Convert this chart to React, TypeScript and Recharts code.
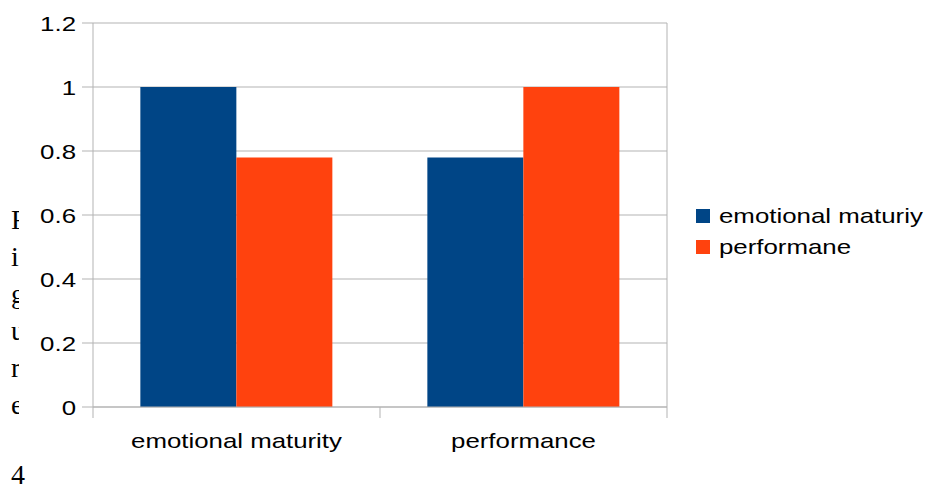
import React from 'react'
import { Bar, BarChart, CartesianGrid, XAxis, YAxis } from 'recharts'

const categories = ['emotional maturity', 'performance']
const maturityValues = [1, 0.78]
const performanceValues = [0.78, 1]
const seriesNames = ['emotional maturiy', 'performane']
const seriesColors = ['#004586', '#ff420e']
const yTicks = [0, 0.2, 0.4, 0.6, 0.8, 1, 1.2]
const captionLetters = ['F', 'i', 'g', 'u', 'r', 'e']
const captionNumber = '4'

const data = categories.map((name, i) => ({
  name,
  maturity: maturityValues[i],
  performance: performanceValues[i],
}))

const GRID = '#b3b3b3'
const FONT = '"Liberation Sans", Arial, sans-serif'
const STRETCH = 1.23

function YTick(props: any) {
  const { x, y, payload } = props
  return (
    <text
      transform={`translate(${x},${y}) scale(${STRETCH},1)`}
      textAnchor="end"
      dy="0.36em"
      fontSize={21}
      fontFamily={FONT}
      fill="#000"
    >
      {String(payload.value)}
    </text>
  )
}

function XTick(props: any) {
  const { x, y, payload, index, visibleTicksCount } = props
  const half = payload.offset ?? 0
  const isLast = index === visibleTicksCount - 1
  return (
    <g>
      <line x1={x - half} x2={x - half} y1={y} y2={y + 11} stroke={GRID} />
      {isLast ? <line x1={x + half} x2={x + half} y1={y} y2={y + 11} stroke={GRID} /> : null}
      <text
        transform={`translate(${x},${y + 41}) scale(${STRETCH},1)`}
        textAnchor="middle"
        fontSize={21}
        fontFamily={FONT}
        fill="#000"
      >
        {payload.value}
      </text>
    </g>
  )
}

export default function App() {
  return (
    <div style={{ position: 'absolute', left: 0, top: 0, width: 927, height: 485, background: '#fff' }}>
      {/* stray caption text, cut off by the chart */}
      <svg width={19} height={485} style={{ position: 'absolute', left: 0, top: 0 }}>
        {captionLetters.map((ch, i) => (
          <text key={i} x={11} y={229 + i * 37} fontSize={28} fontFamily='"Liberation Serif", serif' fill="#000">
            {ch}
          </text>
        ))}
      </svg>
      <svg width={40} height={30} style={{ position: 'absolute', left: 0, top: 455 }}>
        <text x={11} y={29} fontSize={28} fontFamily='"Liberation Serif", serif' fill="#000">
          {captionNumber}
        </text>
      </svg>

      <div style={{ position: 'absolute', left: 0, top: 0 }}>
        <BarChart
          width={927}
          height={485}
          data={data}
          margin={{ top: 23, right: 260, bottom: 0, left: 0 }}
          barCategoryGap="16.5%"
          barGap={0}
        >
          <CartesianGrid
            stroke={GRID}
            vertical
            verticalCoordinatesGenerator={({ offset }: any) => [offset.left + offset.width]}
          />
          <XAxis
            dataKey="name"
            height={78}
            tickLine={false}
            tickSize={0}
            tickMargin={0}
            axisLine={{ stroke: GRID }}
            tick={<XTick />}
            interval={0}
          />
          <YAxis
            width={93}
            domain={[0, 1.2]}
            ticks={yTicks}
            tickSize={11}
            tickMargin={6}
            axisLine={{ stroke: GRID }}
            tickLine={{ stroke: GRID }}
            tick={<YTick />}
            interval={0}
          />
          <Bar dataKey="maturity" name={seriesNames[0]} fill={seriesColors[0]} isAnimationActive={false} />
          <Bar dataKey="performance" name={seriesNames[1]} fill={seriesColors[1]} isAnimationActive={false} />
        </BarChart>
      </div>

      <div style={{ position: 'absolute', left: 696, top: 200, fontFamily: FONT, fontSize: 21, color: '#000' }}>
        {seriesNames.map((name, i) => (
          <div key={name} style={{ display: 'flex', alignItems: 'center', height: 31, whiteSpace: 'nowrap' }}>
            <span style={{ width: 14, height: 14, background: seriesColors[i], display: 'inline-block' }} />
            <span style={{ marginLeft: 9, display: 'inline-block', transform: `scaleX(${STRETCH})`, transformOrigin: 'left center' }}>
              {name}
            </span>
          </div>
        ))}
      </div>
    </div>
  )
}
